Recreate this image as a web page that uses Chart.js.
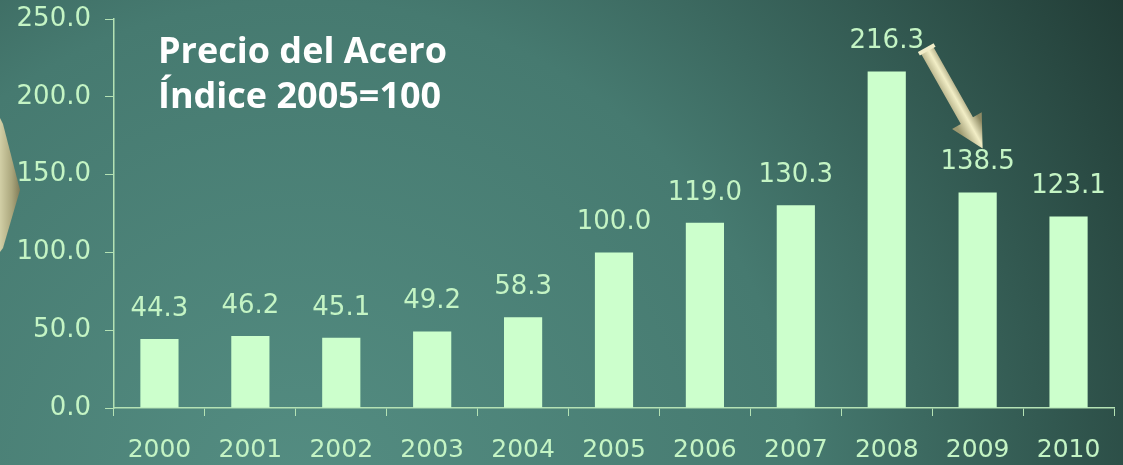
<!DOCTYPE html>
<html>
<head>
<meta charset="utf-8">
<script src="https://cdn.jsdelivr.net/npm/chart.js@4/dist/chart.umd.min.js"></script>
<style>
html,body{margin:0;padding:0;overflow:hidden;}
#wrap{width:1123px;height:465px;position:relative;}
</style>
</head>
<body>
<div id="wrap"><canvas id="steelChart" width="1123" height="465"></canvas></div>
<script>
var years = ["2000","2001","2002","2003","2004","2005","2006","2007","2008","2009","2010"];
var steelIndex = [44.3, 46.2, 45.1, 49.2, 58.3, 100.0, 119.0, 130.3, 216.3, 138.5, 123.1];
var yTicks = [0, 50, 250];
var titleLines = ["Precio del Acero", "Índice 2005=100"];

var textColor = "#c4f4c4";
var axisColor = "#b4e2b4";
var barColor = "#ccffcc";

// background + decorations
var backdrop = {
    id: "backdrop",
    beforeDraw: function(chart){
        var ctx = chart.ctx;
        ctx.save();
        var g = ctx.createRadialGradient(300, 500, 0, 300, 500, 1000);
        g.addColorStop(0, "#548d82");
        g.addColorStop(0.5, "#467a70");
        g.addColorStop(1, "#1f3832");
        ctx.fillStyle = g;
        ctx.fillRect(0, 0, chart.width, chart.height);

        // beige shape on the left edge
        var lg = ctx.createLinearGradient(0, 0, 20, 0);
        lg.addColorStop(0, "#d2cfa6");
        lg.addColorStop(0.6, "#aaa67c");
        lg.addColorStop(1, "#7f7b58");
        ctx.fillStyle = lg;
        ctx.beginPath();
        ctx.moveTo(0, 118);
        ctx.lineTo(3, 124);
        ctx.lineTo(20, 190);
        ctx.lineTo(3, 248);
        ctx.lineTo(0, 252);
        ctx.closePath();
        ctx.fill();
        ctx.restore();
    }
};

var labelsAndTitle = {
    id: "labelsAndTitle",
    afterDatasetsDraw: function(chart){
        var ctx = chart.ctx;
        var meta = chart.getDatasetMeta(0);
        ctx.save();
        ctx.fillStyle = textColor;
        ctx.font = "26px 'DejaVu Sans'";
        ctx.textAlign = "center";
        ctx.textBaseline = "middle";
        meta.data.forEach(function(bar, i){
            ctx.fillText(steelIndex[i].toFixed(1), bar.x, bar.y - 30);
        });

        ctx.fillStyle = "#ffffff";
        ctx.font = "bold 36px 'Open Sans'";
        ctx.textAlign = "left";
        ctx.textBaseline = "alphabetic";
        ctx.fillText(titleLines[0], 158, 63);
        ctx.fillText(titleLines[1], 158, 108);

        // 3D-ish arrow from the 2008 label to the 2009 label
        var x = chart.scales.x, y = chart.scales.y;
        var x0 = x.getPixelForValue(8) + 40, y0 = y.getPixelForValue(steelIndex[8]) - 22;
        var x1 = x.getPixelForValue(9) + 5, y1 = y.getPixelForValue(steelIndex[9]) - 44;
        var ang = Math.atan2(y1 - y0, x1 - x0);
        var len = Math.hypot(x1 - x0, y1 - y0);
        ctx.translate(x0, y0);
        ctx.rotate(ang);
        var ag = ctx.createLinearGradient(0, -12, 0, 12);
        ag.addColorStop(0, "#8e8a64");
        ag.addColorStop(0.45, "#f2eec6");
        ag.addColorStop(1, "#9d9970");
        ctx.fillStyle = ag;
        ctx.beginPath();
        ctx.moveTo(0, -7);
        ctx.lineTo(len - 32, -7);
        ctx.lineTo(len - 32, -17);
        ctx.lineTo(len, 0);
        ctx.lineTo(len - 32, 17);
        ctx.lineTo(len - 32, 7);
        ctx.lineTo(0, 7);
        ctx.closePath();
        ctx.fill();
        ctx.fillStyle = "#f0ecc8";
        ctx.fillRect(-2, -9, 4, 18);
        ctx.restore();
    }
};

var ctx = document.getElementById("steelChart");
var steelChart = new Chart(ctx, {
    type: "bar",
    data: {
        labels: years,
        datasets: [{
            data: steelIndex,
            backgroundColor: barColor,
            borderWidth: 0,
            categoryPercentage: 1,
            barPercentage: 0.42
        }]
    },
    options: {
        responsive: false,
        animation: false,
        layout: {padding: {left: 0, right: 9, top: 19, bottom: 0}},
        plugins: {legend: {display: false}, tooltip: {enabled: false}},
        scales: {
            x: {
                grid: {display: true, drawOnChartArea: false, drawTicks: true, tickLength: 8, color: axisColor, offset: true},
                border: {display: true, color: axisColor, width: 1.5},
                ticks: {color: textColor, font: {family: "DejaVu Sans", size: 25}, padding: 19, maxRotation: 0},
                afterFit: function(s){ s.height = 57; s.paddingLeft = 0; s.paddingRight = 0; }
            },
            y: {
                min: 0,
                max: 250,
                grid: {display: true, drawOnChartArea: false, drawTicks: true, tickLength: 9, color: axisColor},
                border: {display: true, color: axisColor, width: 1.5},
                ticks: {
                    stepSize: yTicks[1] - yTicks[0],
                    color: textColor,
                    font: {family: "DejaVu Sans", size: 26},
                    padding: 14,
                    callback: function(v){ return v.toFixed(1); }
                },
                afterFit: function(s){ s.width = 114; s.paddingTop = 0; s.paddingBottom = 0; }
            }
        }
    },
    plugins: [backdrop, labelsAndTitle]
});
</script>
</body>
</html>
